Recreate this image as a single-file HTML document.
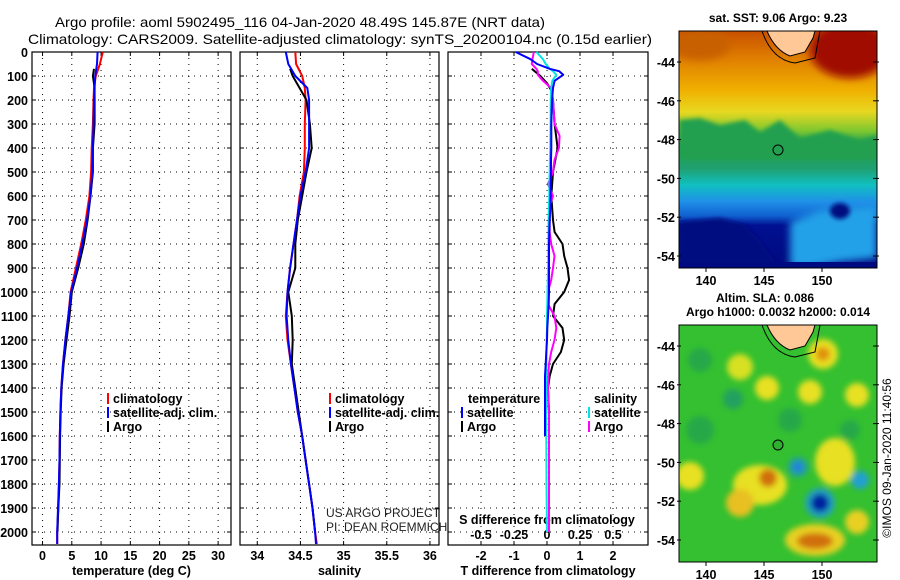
<!DOCTYPE html>
<html><head><meta charset="utf-8"><style>
html,body{margin:0;padding:0;background:#fff;}
svg{display:block;font-family:"Liberation Sans",sans-serif;}
</style></head><body>
<svg id="c" width="900" height="580" viewBox="0 0 900 580" xmlns="http://www.w3.org/2000/svg">
<defs>
<filter id="bl" x="-50%" y="-50%" width="200%" height="200%"><feGaussianBlur stdDeviation="4"/></filter>
<filter id="bl3" x="-50%" y="-50%" width="200%" height="200%"><feGaussianBlur stdDeviation="3"/></filter>
<filter id="bl2" x="-50%" y="-50%" width="200%" height="200%"><feGaussianBlur stdDeviation="2"/></filter>
<clipPath id="m1"><rect x="679" y="31" width="198" height="237"/></clipPath>
<clipPath id="m2"><rect x="679" y="325" width="198" height="237"/></clipPath>
<linearGradient id="sst" x1="0" y1="0" x2="0" y2="1">
<stop offset="0" stop-color="#c85000"/><stop offset="0.12" stop-color="#e08000"/>
<stop offset="0.25" stop-color="#f0b000"/><stop offset="0.34" stop-color="#e8d820"/>
<stop offset="0.42" stop-color="#80c830"/><stop offset="0.48" stop-color="#20a050"/>
<stop offset="0.58" stop-color="#20a070"/><stop offset="0.65" stop-color="#10c0c0"/>
<stop offset="0.72" stop-color="#2090e8"/><stop offset="0.78" stop-color="#1060d0"/>
<stop offset="0.82" stop-color="#001090"/><stop offset="1" stop-color="#000a80"/>
</linearGradient>
</defs>
<text x="300" y="27" font-size="14" text-anchor="middle" textLength="490" lengthAdjust="spacingAndGlyphs">Argo profile: aoml 5902495_116 04-Jan-2020 48.49S 145.87E (NRT data)</text>
<text x="340" y="44" font-size="14" text-anchor="middle" textLength="624" lengthAdjust="spacingAndGlyphs">Climatology: CARS2009. Satellite-adjusted climatology: synTS_20200104.nc (0.15d earlier)</text>

<g clip-path="url(#m1)">
<rect x="679" y="31" width="198" height="237" fill="url(#sst)"/>
<ellipse cx="850" cy="50" rx="40" ry="28" fill="#a00800" filter="url(#bl)"/>
<ellipse cx="700" cy="45" rx="30" ry="15" fill="#c86000" filter="url(#bl)"/>
<path d="M679 120 L700 118 L720 125 L745 120 L760 132 L780 120 L800 138 L830 130 L860 140 L877 135 L877 160 L679 160Z" fill="#20a050" filter="url(#bl2)"/>
<path d="M679 222 L720 218 L745 225 L760 240 L775 262 L800 268 L679 268Z" fill="#000a80" filter="url(#bl2)"/>
<path d="M790 222 L820 210 L877 205 L877 258 L840 262 L810 268 L790 268Z" fill="#20a0e8" filter="url(#bl)"/>
<ellipse cx="840" cy="211" rx="10" ry="8" fill="#001080" filter="url(#bl2)"/>
<rect x="679" y="262" width="198" height="6" fill="#000a80"/>
<path d="M767 31 Q775 50 790 56 L805 52 L813 38 L815 31Z" fill="#ffc896" stroke="#000" stroke-width="1"/>
<path d="M762 31 Q772 60 795 63 L815 58 L820 31" fill="none" stroke="#000" stroke-width="1"/>
<circle cx="778" cy="150" r="5" fill="none" stroke="#000" stroke-width="1"/>
</g>
<rect x="679" y="31" width="198" height="237" fill="none" stroke="#000"/>

<g clip-path="url(#m2)">
<rect x="679" y="325" width="198" height="237" fill="#34c030"/>
<g filter="url(#bl3)">
<circle cx="700" cy="360" r="12" fill="#28a848"/>
<circle cx="700" cy="430" r="14" fill="#28a848"/>
<circle cx="790" cy="420" r="12" fill="#28a848"/>
<circle cx="850" cy="430" r="10" fill="#28a848"/>
<circle cx="823" cy="354" r="15" fill="#e8e020"/><circle cx="823" cy="354" r="7" fill="#e09010"/>
<circle cx="740" cy="367" r="13" fill="#d8e020"/>
<circle cx="767" cy="388" r="12" fill="#e8e020"/>
<circle cx="810" cy="392" r="12" fill="#e8e020"/>
<circle cx="857" cy="395" r="12" fill="#e8e020"/>
<circle cx="733" cy="399" r="10" fill="#20a060"/>
<ellipse cx="835" cy="462" rx="20" ry="24" fill="#e8e020"/>
<ellipse cx="760" cy="485" rx="27" ry="20" fill="#e8e020"/>
<circle cx="768" cy="478" r="9" fill="#d07010"/>
<circle cx="798" cy="467" r="10" fill="#20a0a0"/><circle cx="798" cy="467" r="5" fill="#2080e0"/>
<circle cx="690" cy="476" r="14" fill="#e8e020"/>
<circle cx="740" cy="503" r="14" fill="#e8c020"/>
<circle cx="820" cy="503" r="15" fill="#20a0c0"/><circle cx="820" cy="503" r="9" fill="#0020a0"/>
<circle cx="860" cy="480" r="9" fill="#20a0d0"/>
<ellipse cx="815" cy="540" rx="30" ry="16" fill="#e8d020"/><ellipse cx="815" cy="541" rx="18" ry="8" fill="#d07010"/>
<circle cx="857" cy="522" r="12" fill="#e8d020"/>
</g>
<path d="M767 325 Q775 344 790 350 L805 346 L813 332 L815 325Z" fill="#ffc896" stroke="#000" stroke-width="1"/>
<path d="M762 325 Q772 354 795 357 L815 352 L820 325" fill="none" stroke="#000" stroke-width="1"/>
<circle cx="778" cy="445" r="5" fill="#30b030" stroke="#000" stroke-width="1"/>
</g>
<rect x="679" y="325" width="198" height="237" fill="none" stroke="#000"/>

<text x="778" y="22" font-size="12" font-weight="bold" text-anchor="middle">sat. SST: 9.06 Argo: 9.23</text>
<text x="765" y="302" font-size="12" font-weight="bold" text-anchor="middle">Altim. SLA: 0.086</text>
<text x="778" y="316" font-size="12" font-weight="bold" text-anchor="middle">Argo h1000: 0.0032 h2000: 0.014</text>
<text transform="translate(891,458) rotate(-90)" font-size="12" text-anchor="middle">©IMOS 09-Jan-2020 11:40:56</text>
<text x="326" y="517" font-size="12" fill="#222">US ARGO PROJECT</text>
<text x="326" y="531" font-size="12" fill="#222">PI: DEAN ROEMMICH</text>
</svg>
<script>
// ---- data ----
const depthsT = [0,50,100,150,200,300,400,500,600,700,800,900,1000,1100,1200,1300,1400,1500,1600,1700,1800,1900,2000,2050];
const tempClim = [10.3,9.8,9.1,8.8,8.7,8.6,8.4,8.3,8.0,7.4,6.6,5.7,4.8,4.4,3.9,3.5,3.2,3.05,2.95,2.9,2.8,2.7,2.5,2.5];
const tempSat  = [9.4,9.3,9.0,8.9,8.8,8.7,8.6,8.5,8.2,7.6,6.8,5.9,4.9,4.4,3.9,3.5,3.2,3.05,2.95,2.9,2.8,2.65,2.5,2.5];
const depthsA = [70,100,150,200,300,400,500,600,700,800,900,1000,1100,1200,1300,1400,1500,1600,1700,1800,1900,2000];
const tempArgo = [8.8,8.6,8.9,8.9,8.9,8.6,8.6,8.2,7.7,7.05,6.1,5.0,4.6,4.1,3.6,3.25,3.1,3.0,2.95,2.9,2.7,2.55];
const salClim = [34.44,34.45,34.52,34.55,34.56,34.55,34.55,34.54,34.49,34.46,34.42,34.38,34.35,34.33,34.35,34.39,34.43,34.47,34.52,34.56,34.60,34.64,34.67,34.69];
const salSat  = [34.33,34.36,34.44,34.58,34.60,34.60,34.60,34.56,34.50,34.46,34.42,34.38,34.35,34.34,34.36,34.39,34.43,34.47,34.52,34.56,34.60,34.64,34.67,34.68];
const salArgo = [34.38,34.41,34.49,34.57,34.61,34.63,34.57,34.52,34.47,34.44,34.44,34.36,34.40,34.41,34.40,34.44,34.48,34.52,34.56,34.60,34.64,34.67];
const dDepths = [0,30,50,70,80,95,120,150,200,300,350,400,450,500,550,600,650,700,750,800,850,900,950,1000,1050,1100,1150,1200,1250,1300,1350,1400,1500,1600,1800,2000];
const tDiffSat = [-0.95,-0.5,-0.3,0.08,0.37,0.49,0.23,0.18,0.15,0.13,0.13,0.13,0.12,0.12,0.11,0.11,0.1,0.08,0.07,0.06,0.06,0.06,0.06,0.06,0.05,0.03,0.01,0,-0.02,-0.04,-0.06,-0.06,-0.06,-0.06,null,null];
const sDiffSat = [-0.08,-0.03,-0.01,0.02,0.045,0.07,0.04,0.032,0.028,0.027,0.026,0.025,0.022,0.02,0.018,0.017,0.014,0.012,0.011,0.01,0.01,0.008,0.006,0.004,0.002,0,0,-0.002,-0.004,-0.005,-0.005,-0.005,-0.005,-0.005,-0.004,0];
const sDiffArgo = [-0.1,-0.11,-0.115,-0.08,-0.07,-0.07,-0.03,0.03,0.045,0.057,0.095,0.09,0.057,0.045,0.007,0.045,0.015,0.02,0.02,0.032,0.057,0.045,0.032,0.007,0.007,0.057,0.07,0.057,0.032,0.015,0.01,0.007,0.015,0.015,0.015,0.015];
const tDiffArgoDepths = [70,100,130,160,200,300,400,500,600,700,750,800,850,900,950,1000,1050,1100,1150,1200,1250,1300,1350,1400,1500,1700,2000];
const tDiffArgo = [-0.46,-0.2,0,0.13,0.18,0.23,0.32,0.18,0.13,0.18,0.23,0.47,0.52,0.62,0.67,0.52,0.23,0.18,0.47,0.52,0.42,0.18,0.08,0.03,0.06,0.06,0.06];
const tTicks = [0,5,10,15,20,25,30];
const sTicks = [34,34.5,35,35.5,36];
const dTicks = [-2,-1,0,1,2];
const sdTicks = ["-0.5","-0.25","0","0.25","0.5"];
const depthTicks = [0,100,200,300,400,500,600,700,800,900,1000,1100,1200,1300,1400,1500,1600,1700,1800,1900,2000];
const latTicks = [-44,-46,-48,-50,-52,-54];
const lonTicks = [140,145,150];

// ---- axes ----
const svg = document.getElementById('c');
const NS = 'http://www.w3.org/2000/svg';
const Y0 = 52, YB = 545;
const yD = d => Y0 + d * 0.24;
const xT = v => 32 + (v + 1.8) * (199 / 34);
const xS = v => 240 + (v - 33.8) * (199 / 2.305);
const xDT = v => 448 + (v + 3) * (200 / 6.06);
const xDS = v => xDT(v * 4);
function mk(tag, attrs, parent) {
  const e = document.createElementNS(NS, tag);
  for (const k in attrs) e.setAttribute(k, attrs[k]);
  (parent || svg).appendChild(e);
  return e;
}
function txt(x, y, s, size, anchor, weight) {
  const t = mk('text', {x: x, y: y, 'font-size': size, 'text-anchor': anchor || 'middle', 'font-weight': weight || 'bold'});
  t.textContent = s;
  return t;
}
const panels = [
  {x0: 32, x1: 231, name: 'temperature-panel', fx: xT, ticks: tTicks, label: 'temperature (deg C)'},
  {x0: 240, x1: 439, name: 'salinity-panel', fx: xS, ticks: sTicks, label: 'salinity'},
  {x0: 448, x1: 648, name: 'difference-panel', fx: xDT, ticks: dTicks, label: 'T difference from climatology'}
];
panels.forEach((p, pi) => {
  const g = mk('g', {});
  
  
  depthTicks.forEach(d => {
    const y = yD(d);
    mk('line', {x1: p.x0, x2: p.x1, y1: y, y2: y, stroke: '#000', 'stroke-width': 1, 'stroke-dasharray': '1,5'}, g);
    mk('line', {x1: p.x0, x2: p.x0 + 4, y1: y, y2: y, stroke: '#000'}, g);
    mk('line', {x1: p.x1 - 4, x2: p.x1, y1: y, y2: y, stroke: '#000'}, g);
  });
  p.ticks.forEach((v, i) => {
    const x = p.fx(v);
    mk('line', {x1: x, x2: x, y1: Y0, y2: YB, stroke: '#000', 'stroke-width': 1, 'stroke-dasharray': '1,5'}, g);
    mk('line', {x1: x, x2: x, y1: YB - 4, y2: YB, stroke: '#000'}, g);
    mk('line', {x1: x, x2: x, y1: Y0, y2: Y0 + 4, stroke: '#000'}, g);
    const t = txt(x, 560, String(v), 12.5, 'middle', 'bold');
    
    
  });
  mk('rect', {x: p.x0, y: Y0, width: p.x1 - p.x0, height: YB - Y0, fill: 'none', stroke: '#000', 'stroke-width': 1.2}, g);
  const lab = txt((p.x0 + p.x1) / 2, 575, p.label, 12.5, 'middle', 'bold');
  
  
});
depthTicks.forEach(d => {
  const t = txt(28, yD(d) + 5, String(d), 12.5, 'end', 'bold');
  
  
});
const sdl = txt(547, 524, 'S difference from climatology', 12.5, 'middle', 'bold');


sdTicks.forEach(s => {
  const t = txt(xDS(parseFloat(s)), 539, s, 12.5, 'middle', 'bold');
  
  
});
function mapAxes(base, bottom, name) {
  const yl = lat => base + (-44 - lat) * 19.4;
  latTicks.forEach(l => {
    const y = yl(l);
    mk('line', {x1: 677, x2: 681, y1: y, y2: y, stroke: '#000'});
    mk('line', {x1: 873, x2: 879, y1: y, y2: y, stroke: '#000'});
    const t = txt(675, y + 5, String(l), 12.5, 'end', 'bold');
    
    
  });
  lonTicks.forEach(l => {
    const x = 706 + (l - 140) * 11.6;
    mk('line', {x1: x, x2: x, y1: bottom, y2: bottom + 4, stroke: '#000'});
    const t = txt(x, bottom + 17, String(l), 12.5, 'middle', 'bold');
    
    
  });
}
mapAxes(62, 268, 'sst-map');
mapAxes(346, 562, 'sla-map');

// ---- series ----
function line(depths, vals, fx, color, name, w) {
  const pts = [];
  depths.forEach((d, i) => { if (vals[i] !== null && vals[i] !== undefined) pts.push(fx(vals[i]).toFixed(1) + ',' + yD(d).toFixed(1)); });
  const p = mk('polyline', {points: pts.join(' '), fill: 'none', stroke: color, 'stroke-width': w || 2, 'stroke-linejoin': 'round'});
  
  
}
line(depthsT, tempClim, xT, '#ff0000', 'temperature-climatology-line');
line(depthsA, tempArgo, xT, '#000000', 'temperature-argo-line');
line(depthsT, tempSat, xT, '#0000ff', 'temperature-satellite-line');
line(depthsT, salClim, xS, '#ff0000', 'salinity-climatology-line');
line(depthsA, salArgo, xS, '#000000', 'salinity-argo-line');
line(depthsT, salSat, xS, '#0000ff', 'salinity-satellite-line');
line(tDiffArgoDepths, tDiffArgo, xDT, '#000000', 'temperature-diff-argo-line');
line(dDepths, sDiffArgo, xDS, '#ff00ff', 'salinity-diff-argo-line');
line(dDepths, sDiffSat, xDS, '#00e5e5', 'salinity-diff-satellite-line');
line(dDepths, tDiffSat, xDT, '#0000ff', 'temperature-diff-satellite-line');

// ---- legends ----
function legend(x, y, color, label, name) {
  mk('rect', {x: x - 6, y: y - 10, width: 2, height: 11, fill: color});
  const t = txt(x, y, label, 12.5, 'start', 'bold');
  
  
}
legend(113, 403, '#ff0000', 'climatology', 'legend-temp-climatology');
legend(113, 417, '#0000ff', 'satellite-adj. clim.', 'legend-temp-satellite');
legend(113, 431, '#000000', 'Argo', 'legend-temp-argo');
legend(335, 403, '#ff0000', 'climatology', 'legend-sal-climatology');
legend(335, 417, '#0000ff', 'satellite-adj. clim.', 'legend-sal-satellite');
legend(335, 431, '#000000', 'Argo', 'legend-sal-argo');
const lt = txt(468, 403, 'temperature', 12.5, 'start', 'bold');


legend(467, 417, '#0000ff', 'satellite', 'legend-tdiff-satellite');
legend(467, 431, '#000000', 'Argo', 'legend-tdiff-argo');
const ls = txt(594, 403, 'salinity', 12.5, 'start', 'bold');


legend(594, 417, '#00e5e5', 'satellite', 'legend-sdiff-satellite');
legend(594, 431, '#ff00ff', 'Argo', 'legend-sdiff-argo');
</script>
</body></html>
